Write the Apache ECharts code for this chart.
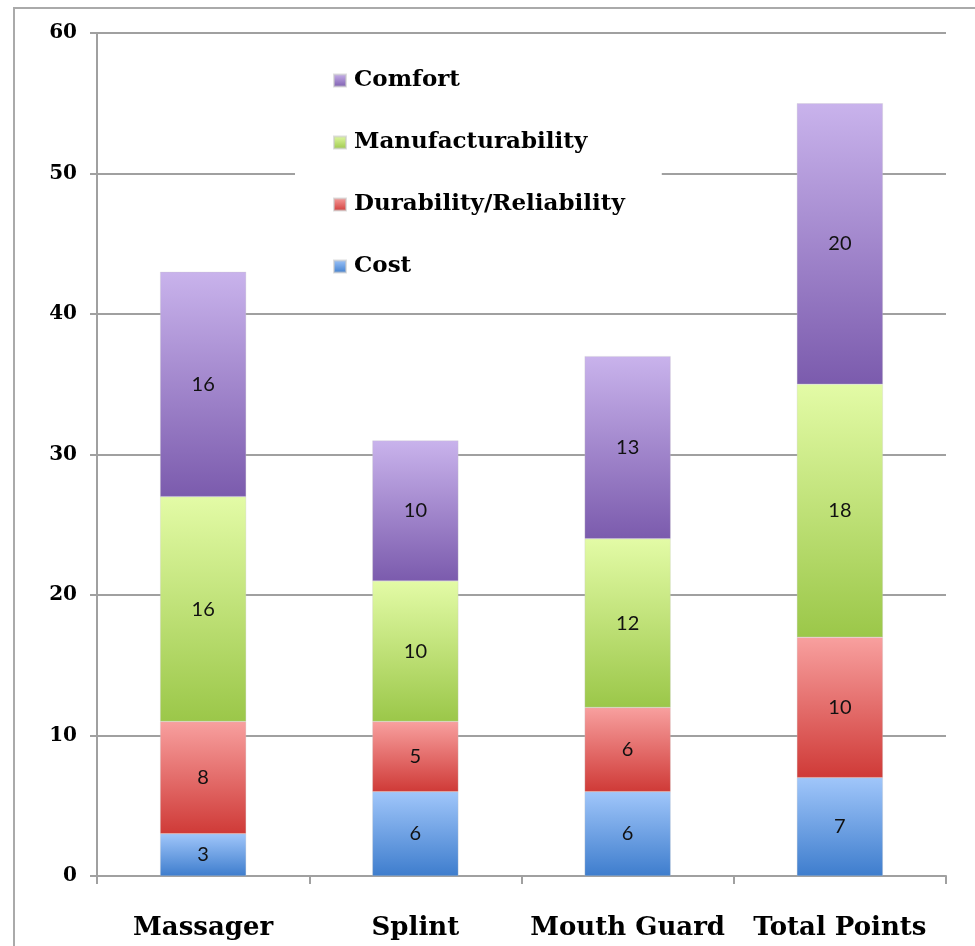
<!DOCTYPE html>
<html>
<head>
<meta charset="utf-8">
<script src="https://cdn.jsdelivr.net/npm/echarts@6/dist/echarts.min.js"></script>
<style>
    html, body { margin: 0; padding: 0; background: #fff; }
    #main { width: 975px; height: 946px; }
</style>
</head>
<body>
<div id="main"></div>
<script>
var categories = ['Massager', 'Splint', 'Mouth Guard', 'Total Points'];
var cost = [3, 6, 6, 7];
var durability = [8, 5, 6, 10];
var manufacturability = [16, 10, 12, 18];
var comfort = [16, 10, 13, 20];
var yTicks = { min: 0, max: 60, interval: 10 };

(function() {
    var myChart = echarts.init(document.getElementById('main'));

    function grad(top, bottom) {
        return new echarts.graphic.LinearGradient(0, 0, 0, 1, [
            { offset: 0, color: top },
            { offset: 1, color: bottom }
        ]);
    }

    function makeSeries(name, data, top, bottom) {
        return {
            name: name,
            type: 'bar',
            stack: 'total',
            barWidth: 86,
            data: data,
            itemStyle: {
                color: grad(top, bottom),
                borderColor: 'rgba(200,200,200,0.6)',
                borderWidth: 0.5
            },
            label: {
                show: true,
                position: 'inside',
                color: '#111',
                fontFamily: 'Lato',
                fontSize: 20
            }
        };
    }

    var serifBold = {
        fontFamily: 'DejaVu Serif',
        fontWeight: 'bold',
        color: '#000'
    };

    option = {
        animation: false,
        backgroundColor: '#fff',
        graphic: [{
            type: 'rect',
            shape: { x: 14, y: 8, width: 1000, height: 1000 },
            style: { fill: 'none', stroke: '#aaa', lineWidth: 2 },
            z: 0
        }],
        grid: {
            left: 97,
            right: 29,
            top: 33,
            bottom: 70
        },
        legend: {
            orient: 'vertical',
            left: 295,
            top: 49,
            padding: [20, 37, 20, 38],
            backgroundColor: '#fff',
            itemWidth: 12,
            itemHeight: 12,
            itemGap: 39,
            icon: 'rect',
            textStyle: {
                fontFamily: 'DejaVu Serif',
                fontWeight: 'bold',
                fontSize: 23,
                lineHeight: 22,
                padding: [0, 0, 0, 3],
                color: '#000'
            },
            data: ['Comfort', 'Manufacturability', 'Durability/Reliability', 'Cost'],
            z: 5
        },
        xAxis: {
            type: 'category',
            data: categories,
            axisLine: { lineStyle: { color: '#a0a0a0', width: 2 } },
            axisTick: { show: true, interval: 0, length: 8, lineStyle: { color: '#a0a0a0', width: 2 } },
            axisLabel: Object.assign({ fontSize: 26, margin: 39, interval: 0 }, serifBold)
        },
        yAxis: {
            type: 'value',
            min: yTicks.min,
            max: yTicks.max,
            interval: yTicks.interval,
            axisLine: { show: true, lineStyle: { color: '#a0a0a0', width: 2 } },
            axisTick: { show: true, length: 7, lineStyle: { color: '#a0a0a0', width: 2 } },
            splitLine: { lineStyle: { color: '#a0a0a0', width: 2 } },
            axisLabel: Object.assign({ fontSize: 20, margin: 20 }, serifBold)
        },
        series: [
            makeSeries('Cost', cost, '#a0c6fa', '#3e7dcd'),
            makeSeries('Durability/Reliability', durability, '#f8a09f', '#cf3a37'),
            makeSeries('Manufacturability', manufacturability, '#e3fba6', '#9bc749'),
            makeSeries('Comfort', comfort, '#c9b3ec', '#7b5bad')
        ]
    };

    myChart.setOption(option);

    window.addEventListener('resize', function() {
        myChart.resize();
    });
})();
</script>
</body>
</html>
